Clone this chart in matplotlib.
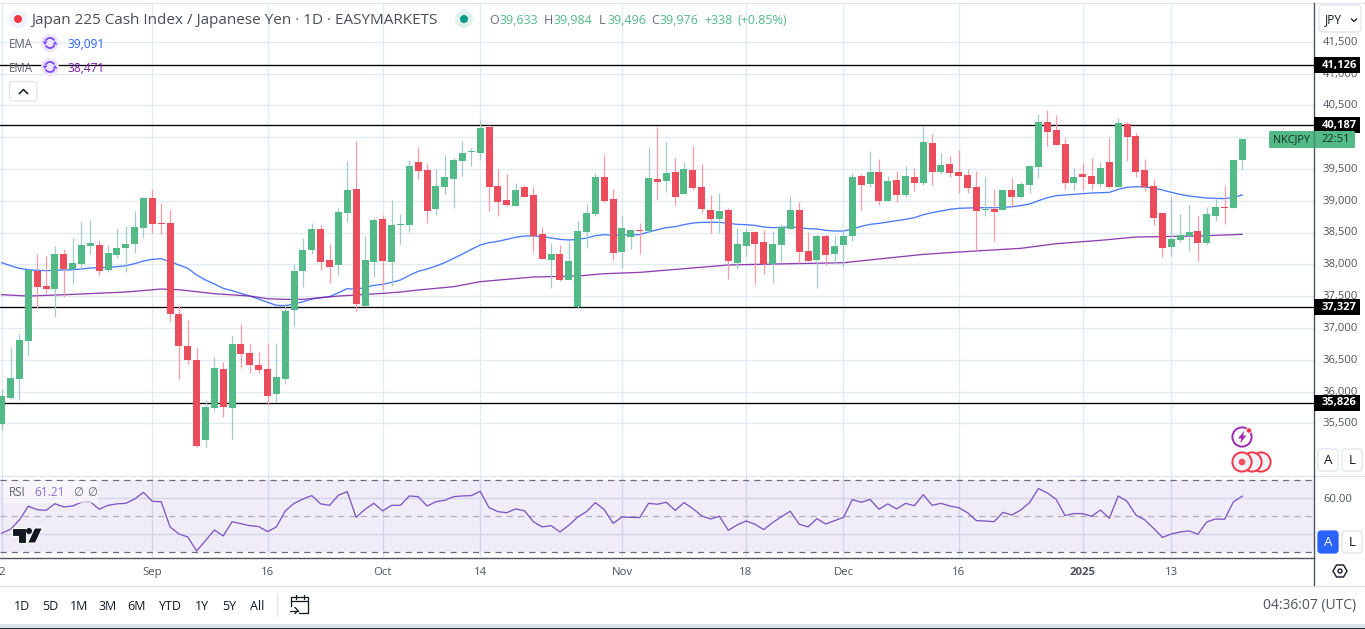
import numpy as np
import matplotlib
matplotlib.use("Agg")
import matplotlib.pyplot as plt
from matplotlib.patches import Arc, Circle, FancyBboxPatch, Polygon, Rectangle
from matplotlib.ticker import FuncFormatter
from matplotlib.transforms import ScaledTranslation

plt.rcParams["font.family"] = ["Open Sans", "DejaVu Sans"]

# ------------------ Data ------------------
opens = [35494, 35898, 36196, 36794, 37894, 37658, 37611, 38162, 37926, 38004, 38287, 38303, 37910, 38146, 38256, 38319, 38570, 39042, 38649, 38649,
         37218, 36715, 36495, 35237, 35740, 36354, 35740, 36747, 36605, 36416, 36354, 35961, 36196, 37281, 37894, 38224, 38555, 38067, 37989, 38806,
         39184, 37344, 38036, 38712, 38036, 38618, 38618, 39608, 39482, 38869, 39215, 39341, 39624, 39765, 39750, 40158, 39231, 39011, 38916, 39215,
         39089, 38476, 38067, 38162, 37753, 37323, 38508, 38791, 39372, 39026, 38193, 38429, 38539, 38523, 39341, 39309, 39451, 39105, 39482, 39215,
         38853, 38712, 38853, 38020, 38287, 38508, 38350, 38004, 38303, 38555, 38853, 38209, 38067, 38445, 38162, 38303, 38445, 39388, 39262, 39451,
         38995, 39325, 39089, 39372, 39278, 39907, 39451, 39577, 39451, 39404, 39215, 38853, 38869, 38853, 39168, 39058, 39247, 39530, 40237, 40111,
         39891, 39278, 39420, 39388, 39262, 39608, 39215, 40206, 40017, 39482, 39231, 38806, 38272, 38382, 38445, 38523, 38335, 38759, 38901, 38885,
         39633]
highs = [36039, 36699, 36904, 37926, 38162, 38130, 38287, 38240, 38413, 38665, 38696, 38382, 38303, 38555, 38602, 38838, 39058, 39184, 38963, 38853,
         37344, 37124, 36684, 35866, 36542, 36464, 36872, 37061, 36747, 36621, 36762, 36762, 37391, 38004, 38413, 38649, 38618, 38319, 38885, 39624,
         39938, 38445, 38728, 38770, 39011, 38791, 39640, 39844, 39577, 39498, 39718, 39671, 39938, 39828, 40284, 40190, 39498, 39420, 39278, 39247,
         39215, 38586, 38335, 38303, 38366, 38681, 38948, 39435, 39718, 39184, 38775, 38555, 38649, 39844, 40158, 39923, 39671, 39608, 39860, 39577,
         39089, 39121, 38885, 38570, 38570, 38523, 38539, 38523, 38633, 39074, 38979, 38508, 38476, 38476, 38460, 38539, 39435, 39420, 39781, 39655,
         39388, 39467, 39545, 39514, 40174, 40048, 39750, 39702, 39797, 39498, 39467, 39372, 39184, 39168, 39357, 39294, 39561, 40363, 40426, 40347,
         39986, 39514, 39592, 39671, 39608, 39986, 40300, 40237, 40064, 39655, 39341, 38806, 39058, 38791, 38932, 38759, 38901, 39042, 39231, 39640,
         39984]
lows = [35394, 35882, 35866, 36558, 37313, 37548, 37171, 37486, 37690, 37926, 38162, 37831, 37879, 38099, 37879, 38177, 38413, 38492, 38476, 37108,
        36196, 36432, 35127, 35127, 35693, 35599, 35253, 36369, 36291, 36291, 35787, 35835, 36118, 37030, 37643, 38162, 37910, 37706, 37831, 38665,
        37265, 37344, 37800, 37596, 37658, 38319, 38508, 39341, 38649, 38775, 39105, 38885, 39388, 39545, 39640, 38838, 38759, 38916, 38916, 39058,
        38193, 38083, 37627, 37737, 37753, 37313, 38256, 38759, 38979, 38067, 37942, 38240, 38162, 38508, 39026, 39136, 38932, 39105, 39168, 38806,
        38492, 38492, 37769, 37926, 38130, 37690, 37847, 37706, 38036, 38555, 38020, 38052, 37627, 37989, 38004, 37957, 38366, 38853, 39215, 38932,
        38995, 38979, 39058, 39152, 39247, 39247, 39420, 39372, 39121, 39121, 38224, 38759, 38366, 38853, 38885, 39042, 39121, 39357, 39860, 39875,
        39184, 39168, 39168, 39168, 39215, 39199, 39215, 39624, 39372, 39152, 38618, 38114, 38130, 38350, 38209, 38052, 38303, 38681, 38633, 38885,
        39496]
closes = [35929, 36212, 36809, 37910, 37643, 37611, 38162, 37926, 38020, 38303, 38335, 37894, 38177, 38256, 38319, 38586, 39042, 38633, 38633, 37218,
          36715, 36495, 35143, 35756, 36369, 35756, 36747, 36589, 36416, 36338, 35929, 36228, 37265, 37894, 38224, 38555, 38036, 37957, 38822, 39168,
          37376, 38067, 38696, 38052, 38618, 38633, 39545, 39467, 38838, 39231, 39372, 39640, 39750, 39781, 40143, 39215, 38979, 38932, 39168, 39058,
          38445, 38083, 38162, 37753, 38052, 38523, 38806, 39372, 38995, 38177, 38570, 38539, 38523, 39357, 39294, 39435, 39058, 39498, 39199, 38869,
          38712, 38838, 38052, 38319, 38508, 38319, 38004, 38319, 38586, 38853, 38193, 38052, 38445, 38146, 38287, 38445, 39372, 39247, 39451, 38995,
          39309, 39089, 39388, 39278, 39923, 39451, 39561, 39435, 39388, 39199, 38838, 38869, 38822, 39168, 39058, 39262, 39545, 40237, 40080, 39875,
          39278, 39372, 39372, 39262, 39514, 39215, 40221, 40001, 39451, 39215, 38728, 38256, 38397, 38460, 38508, 38335, 38791, 38901, 38885, 39640,
          39976]

ema_fast = [38025, 37978, 37936, 37915, 37905, 37900, 37905, 37910, 37915, 37926, 37942, 37947, 37952, 37963, 37978, 38010, 38052, 38078, 38088, 38041,
            37989, 37936, 37831, 37753, 37690, 37622, 37585, 37543, 37501, 37454, 37402, 37355, 37349, 37376, 37412, 37454, 37475, 37491, 37554, 37617,
            37606, 37638, 37669, 37685, 37716, 37753, 37826, 37889, 37926, 37973, 38025, 38093, 38162, 38235, 38303, 38340, 38361, 38392, 38424, 38445,
            38445, 38439, 38413, 38392, 38382, 38392, 38413, 38450, 38466, 38455, 38460, 38466, 38466, 38508, 38544, 38576, 38591, 38623, 38649, 38660,
            38660, 38660, 38644, 38628, 38623, 38612, 38586, 38576, 38581, 38586, 38576, 38560, 38555, 38534, 38523, 38523, 38555, 38597, 38628, 38644,
            38665, 38686, 38707, 38733, 38780, 38812, 38838, 38864, 38880, 38885, 38890, 38890, 38890, 38895, 38906, 38922, 38948, 39000, 39047, 39079,
            39089, 39100, 39110, 39121, 39126, 39131, 39178, 39210, 39220, 39215, 39199, 39168, 39131, 39100, 39074, 39058, 39042, 39037, 39032, 39053,
            39091]

ema_slow_bars = [0, 3, 8, 14, 18, 20, 22, 24, 28, 30, 32, 34, 36, 38, 43, 45, 47, 51, 54, 60, 65, 68, 72, 82, 87, 95, 104, 108, 115, 119, 124, 128, 135, 140]
ema_slow = [37522, 37501, 37527, 37564, 37611, 37601, 37569, 37538, 37501, 37459, 37449, 37449, 37475, 37501, 37543, 37564, 37596, 37648, 37727, 37800,
            37816, 37852, 37873, 37989, 38004, 38025, 38156, 38193, 38251, 38324, 38377, 38429, 38445, 38471]

rsi = [40.6, 42.8, 48.0, 55.6, 53.7, 53.3, 57.0, 55.2, 55.7, 57.8, 58.1, 53.9, 56.1, 56.9, 57.2, 59.6, 63.3, 58.3, 58.1, 44.1,
       40.2, 38.5, 30.7, 36.5, 42.4, 39.1, 47.0, 45.9, 44.8, 44.3, 41.5, 44.1, 53.0, 57.2, 59.6, 61.5, 56.9, 56.1, 61.7, 63.7,
       49.4, 53.9, 57.2, 53.0, 56.1, 56.1, 61.3, 60.9, 55.7, 58.1, 58.9, 60.9, 61.3, 61.5, 63.9, 54.8, 52.6, 52.0, 54.1, 53.1,
       47.0, 44.1, 44.8, 41.3, 45.0, 49.6, 52.6, 57.6, 53.7, 46.1, 49.6, 49.4, 49.3, 57.2, 56.7, 57.8, 53.3, 57.6, 54.3, 50.2,
       48.5, 50.0, 42.2, 45.2, 47.4, 45.6, 42.6, 46.5, 49.8, 52.8, 45.6, 44.1, 48.7, 45.7, 47.6, 49.4, 59.3, 57.8, 59.4, 53.9,
       56.9, 54.1, 57.2, 55.9, 62.0, 56.1, 57.2, 55.7, 54.8, 52.0, 47.6, 47.4, 47.0, 52.2, 50.7, 53.5, 57.6, 65.4, 63.0, 59.4,
       50.4, 51.5, 51.5, 50.0, 53.5, 48.9, 61.3, 58.3, 50.7, 48.0, 43.3, 38.3, 40.2, 41.3, 41.9, 40.0, 46.9, 48.5, 48.3, 58.0,
       61.21]

level_values = [41126, 40187, 37327, 35826]
price_ticks = [35500, 36000, 36500, 37000, 37500, 38000, 38500, 39000, 39500, 40000, 40500, 41000, 41500]
hidden_price_labels = [40000]   # covered by the symbol tag in the original
time_bars = [0, 17, 30, 43, 54, 70, 84, 95, 108, 122, 132]
time_labels = ["2", "Sep", "16", "Oct", "14", "Nov", "18", "Dec", "16", "2025", "13"]
range_labels = ["1D", "5D", "1M", "3M", "6M", "YTD", "1Y", "5Y", "All"]
# -------------------------------------------------------------

WIDTH, HEIGHT = 1365, 629
BAR_STEP = 8.861   # pixels per candle
BAR_ZERO = 1.7     # pixel of the first candle
SCALE_X = 1314     # left edge of the price scale

GREEN = "#53b987"
RED = "#eb4d5c"
GRID = "#e1ecf2"
TEXT = "#50535e"
BLUE = "#2962ff"
PURPLE = "#7b1fa2"


def add_axes_px(fig, left, top, right, bottom):
    return fig.add_axes([left / WIDTH, 1 - bottom / HEIGHT, (right - left) / WIDTH, (bottom - top) / HEIGHT])


def price_at(y):
    return 40500 - (y - 105.3) / 0.0636


def rsi_at(y):
    return 70 - (y - 480.3) / 1.8


def price_label(value, _):
    if int(value) in hidden_price_labels:
        return ""
    return f"{int(value):,}"


def draw_candles(ax):
    o, h, l, c = map(np.array, (opens, highs, lows, closes))
    bars = np.arange(len(o))
    up = c >= o
    wick_colors = np.where(up, "#a3cbc9", "#f79ba6")
    ax.vlines(bars, l, h, colors=wick_colors, linewidth=0.9, zorder=4)
    body_colors = np.where(up, GREEN, RED)
    bottoms = np.minimum(o, c)
    heights = np.maximum(np.abs(c - o), 15)
    ax.bar(bars, heights, bottom=bottoms, width=0.79, color=body_colors, linewidth=0, zorder=5)


def style_pane(ax):
    ax.set_xlim((0 - BAR_ZERO) / BAR_STEP, (SCALE_X - BAR_ZERO) / BAR_STEP)
    ax.set_xticks(time_bars)
    ax.tick_params(axis="both", length=0)
    ax.grid(True, color=GRID, linewidth=1.0)
    ax.set_axisbelow(True)
    for spine in ax.spines.values():
        spine.set_visible(False)
    ax.yaxis.tick_right()


def pill(ui, x0, y0, x1, y1, face="white", edge="#e0e3eb", lw=0.9, radius=3, zorder=1):
    box = FancyBboxPatch((x0, y0), x1 - x0, y1 - y0, boxstyle=f"round,pad=0,rounding_size={radius}",
                         facecolor=face, edgecolor=edge, linewidth=lw, zorder=zorder)
    ui.add_patch(box)


def draw_legend(ui):
    ui.add_patch(Circle((18, 19), 9, facecolor="#f0f3fa", edgecolor="none"))
    ui.add_patch(Circle((18, 19), 4, facecolor="#f23645", edgecolor="none"))
    ui.text(31, 20, "Japan 225 Cash Index / Japanese Yen · 1D · EASYMARKETS",
            fontsize=11, color="#4a4d57", va="center", ha="left")
    ui.add_patch(Circle((464, 19), 9, facecolor="#dff2ee", edgecolor="none"))
    ui.add_patch(Circle((464, 19), 4, facecolor="#089981", edgecolor="none"))

    ohlc = [(489, "O", 499, "39,633"), (544, "H", 553, "39,984"),
            (599, "L", 607, "39,496"), (651, "C", 660, "39,976")]
    for x_letter, letter, x_value, value in ohlc:
        ui.text(x_letter, 20, letter, fontsize=9, color="#6a6d78", va="center")
        ui.text(x_value, 20, value, fontsize=9, color=GREEN, va="center")
    ui.text(704, 20, "+338", fontsize=9, color=GREEN, va="center")
    ui.text(737, 20, "(+0.85%)", fontsize=9, color=GREEN, va="center")

    for y, value, color in [(43, "39,091", BLUE), (67, "38,471", PURPLE)]:
        ui.text(9, y + 1, "EMA", fontsize=8.3, color="#5d606b", va="center")
        ui.add_patch(Circle((50, y), 9, facecolor="#ece5fd", edgecolor="none"))
        # sync icon: two arcs chasing each other
        ui.add_patch(Arc((50, y), 10, 10, theta1=25, theta2=150, color="#7c4dff", linewidth=1.3))
        ui.add_patch(Arc((50, y), 10, 10, theta1=205, theta2=330, color="#7c4dff", linewidth=1.3))
        ui.add_patch(Polygon([(42.5, y - 1.5), (47.5, y - 1.5), (45, y + 2)], closed=True, facecolor="#7c4dff", edgecolor="none"))
        ui.add_patch(Polygon([(52.5, y + 1.5), (57.5, y + 1.5), (55, y - 2)], closed=True, facecolor="#7c4dff", edgecolor="none"))
        ui.text(67, y + 1, value, fontsize=8.6, color=color, va="center")

    pill(ui, 9.5, 81.5, 37, 101)
    ui.plot([19.5, 23.5, 27.5], [93.5, 89.5, 93.5], color="#131722", linewidth=1.1, zorder=2)


def draw_right_scale(ui):
    # black level tags + symbol tag
    for value in level_values:
        y = 105.3 + (40500 - value) * 0.0636
        ui.add_patch(Rectangle((SCALE_X, y - 8), 46, 16, facecolor="black", edgecolor="none", zorder=7))
        ui.text(1339.5, y, f"{value:,}", fontsize=8, fontweight="bold", color="white",
                va="center", ha="center", zorder=8)
    pill(ui, 1269, 131, 1355, 148, face=GREEN, edge=GREEN, lw=0, radius=1.5, zorder=7)
    ui.text(1291.5, 140, "NKCJPY", fontsize=7.8, color="#123324", va="center", ha="center", zorder=8)
    ui.text(1336, 140, "22:51", fontsize=8, color="#123324", va="center", ha="center", zorder=8)
    ui.plot([SCALE_X, SCALE_X], [131, 148], color="#3f8f6b", linewidth=1.0, zorder=8)

    pill(ui, 1319, 5, 1361, 32, radius=4)
    ui.text(1333, 20, "JPY", fontsize=8.6, color="#131722", va="center", ha="center", zorder=9)
    ui.plot([1351.5, 1354, 1356.5], [19, 21.5, 19], color="#131722", linewidth=0.9, zorder=9)

    for top, a_face, a_color in [(449, "white", "#131722"), (531, BLUE, "white")]:
        pill(ui, 1318, top, 1338, top + 22, face=a_face, edge=a_face if a_face == BLUE else "#e0e3eb")
        ui.text(1328, top + 11.5, "A", fontsize=9.6, color=a_color, va="center", ha="center", zorder=9)
        pill(ui, 1342, top, 1362, top + 22)
        ui.text(1352, top + 11.5, "L", fontsize=9.6, color="#131722", va="center", ha="center", zorder=9)

    hexagon = [(1333, 571), (1336.5, 565), (1343.5, 565), (1347, 571), (1343.5, 577), (1336.5, 577)]
    ui.add_patch(Polygon(hexagon, closed=True, facecolor="white", edgecolor="#131722", linewidth=1.0))
    ui.add_patch(Circle((1340, 571), 2, facecolor="white", edgecolor="#131722", linewidth=1.0))


def draw_badges(ui):
    ui.add_patch(Circle((1242, 437), 9.6, facecolor="white", edgecolor="#9c27b0", linewidth=1.4))
    bolt = [(1244.5, 430.5), (1238, 438.5), (1241.5, 438.5), (1240, 443.5), (1246.5, 435.5), (1243, 435.5)]
    ui.add_patch(Polygon(bolt, closed=True, facecolor="#9c27b0", edgecolor="none"))
    ui.add_patch(Circle((1249, 430.5), 2.6, facecolor="#f23645", edgecolor="white", linewidth=0.5))
    for x in [1261, 1252, 1242]:
        ui.add_patch(Circle((x, 462), 9.6, facecolor="#f0f3fa", edgecolor="#f23645", linewidth=1.4))
    ui.add_patch(Circle((1242, 462), 3.4, facecolor="#f7525f", edgecolor="none"))


def draw_rsi_label(ui):
    ui.add_patch(Rectangle((3, 481), 95, 22, facecolor="white", alpha=0.55, edgecolor="none", zorder=3))
    ui.text(9, 493, "RSI", fontsize=8.3, color="#5d606b", va="center", zorder=4)
    ui.text(34.5, 493, "61.21", fontsize=8.6, color="#8e6fd6", va="center", zorder=4)
    ui.text(73, 493, "∅", fontsize=8.3, color="#5d606b", va="center", zorder=4, family=["DejaVu Sans"])
    ui.text(87, 493, "∅", fontsize=8.3, color="#5d606b", va="center", zorder=4, family=["DejaVu Sans"])

    # TradingView logo
    t_bar = [(12, 528), (25.5, 528), (25.5, 543), (18, 543), (18, 535.5), (12, 535.5)]
    slash = [(34.5, 528), (42.5, 528), (35.5, 543), (27.5, 543)]
    ui.add_patch(Polygon(t_bar, closed=True, facecolor="#131722", edgecolor="white", linewidth=0.8, zorder=5))
    ui.add_patch(Polygon(slash, closed=True, facecolor="#131722", edgecolor="white", linewidth=0.8, zorder=5))
    ui.add_patch(Circle((29, 531), 3, facecolor="#131722", edgecolor="none", zorder=5))


def draw_bottom_bar(ui):
    range_x = [22, 50, 79, 108, 137, 170, 202, 229, 257]
    for x, label in zip(range_x, range_labels):
        ui.text(x, 606, label, fontsize=9, color="#131722", va="center", ha="center")
    ui.plot([276.5, 276.5], [594, 616], color="#e0e3eb", linewidth=0.9)

    # go-to-date icon
    ui.plot([291, 291, 308, 308, 299], [606, 597, 597, 612.5, 612.5], color="#131722", linewidth=0.9)
    ui.plot([291, 308], [601, 601], color="#131722", linewidth=0.9)
    ui.plot([295.5, 295.5], [595, 599], color="#131722", linewidth=0.9)
    ui.plot([303.5, 303.5], [595, 599], color="#131722", linewidth=0.9)
    ui.plot([290, 298], [610.5, 610.5], color="#131722", linewidth=0.9)
    ui.plot([295, 298, 295], [607.5, 610.5, 613.5], color="#131722", linewidth=0.9)

    ui.text(1356, 605.5, "04:36:07 (UTC)", fontsize=10, color=TEXT, va="center", ha="right")

    ui.add_patch(Rectangle((0, 624), WIDTH, 4, facecolor="#dfe3eb", edgecolor="none"))
    ui.add_patch(Rectangle((0, 628), WIDTH, 1, facecolor="#26323a", edgecolor="none"))


def main():
    fig = plt.figure(figsize=(WIDTH / 100, HEIGHT / 100), dpi=100, facecolor="white")

    # price pane
    ax = add_axes_px(fig, 0, 3, SCALE_X, 475.5)
    style_pane(ax)
    ax.set_ylim(price_at(475.5), price_at(3))
    ax.set_yticks(price_ticks)
    ax.yaxis.set_major_formatter(FuncFormatter(price_label))
    ax.tick_params(axis="y", labelsize=8.1, labelcolor=TEXT, pad=6)
    ax.tick_params(axis="x", labelbottom=False)
    up_one_px = ScaledTranslation(0, 1 / 100, fig.dpi_scale_trans)
    for label in ax.get_yticklabels():
        label.set_transform(label.get_transform() + up_one_px)

    bars = np.arange(len(opens))
    ax.plot(bars, ema_fast, color=BLUE, linewidth=0.95, alpha=0.85, zorder=2)
    ax.plot(ema_slow_bars, ema_slow, color=PURPLE, linewidth=0.95, alpha=0.85, zorder=2)
    for value in level_values:
        ax.axhline(value, color="black", linewidth=0.95, zorder=3)
    draw_candles(ax)

    # RSI pane
    ax_rsi = add_axes_px(fig, 0, 475.5, SCALE_X, 557.3)
    style_pane(ax_rsi)
    ax_rsi.set_ylim(rsi_at(557.3), rsi_at(475.5))
    ax_rsi.set_yticks([40, 60])
    ax_rsi.set_yticklabels(["", "60.00"])
    ax_rsi.tick_params(axis="y", labelsize=8.1, labelcolor=TEXT, pad=7)
    ax_rsi.set_xticklabels(time_labels)
    ax_rsi.tick_params(axis="x", labelsize=8.2, labelcolor=TEXT, pad=7)
    ax_rsi.get_xticklabels()[9].set_fontweight("bold")
    ax_rsi.grid(True, color="#dde3f0", linewidth=1.0)
    ax_rsi.axhspan(30, 70, color="#7e57c2", alpha=0.1, linewidth=0, zorder=1)
    ax_rsi.axhline(70, color="#6f6a7d", linewidth=0.9, dashes=(5, 4), zorder=2)
    ax_rsi.axhline(50, color="#b1aebb", linewidth=0.9, dashes=(5, 4), zorder=2)
    ax_rsi.axhline(30, color="#6f6a7d", linewidth=0.9, dashes=(5, 4), zorder=2)
    ax_rsi.plot(bars, rsi, color="#7e57c2", linewidth=0.95, zorder=3)

    # everything that is chrome, in pixels
    ui = fig.add_axes([0, 0, 1, 1], zorder=10)
    ui.set_xlim(0, WIDTH)
    ui.set_ylim(HEIGHT, 0)
    ui.axis("off")
    ui.patch.set_alpha(0)

    ui.plot([0, WIDTH], [2.5, 2.5], color="#e0e3eb", linewidth=0.9)
    ui.plot([0, WIDTH], [475.5, 475.5], color="#e0e3eb", linewidth=0.9)
    ui.plot([0, SCALE_X], [557.5, 557.5], color="#50535e", linewidth=1.0)
    ui.plot([0, WIDTH], [585.5, 585.5], color="#e0e3eb", linewidth=0.9)
    ui.plot([SCALE_X, SCALE_X], [3, 585], color="#50535e", linewidth=1.0)

    draw_legend(ui)
    draw_right_scale(ui)
    draw_badges(ui)
    draw_rsi_label(ui)
    draw_bottom_bar(ui)

    fig.savefig("out.png", dpi=100)
    plt.close(fig)


if __name__ == "__main__":
    main()
